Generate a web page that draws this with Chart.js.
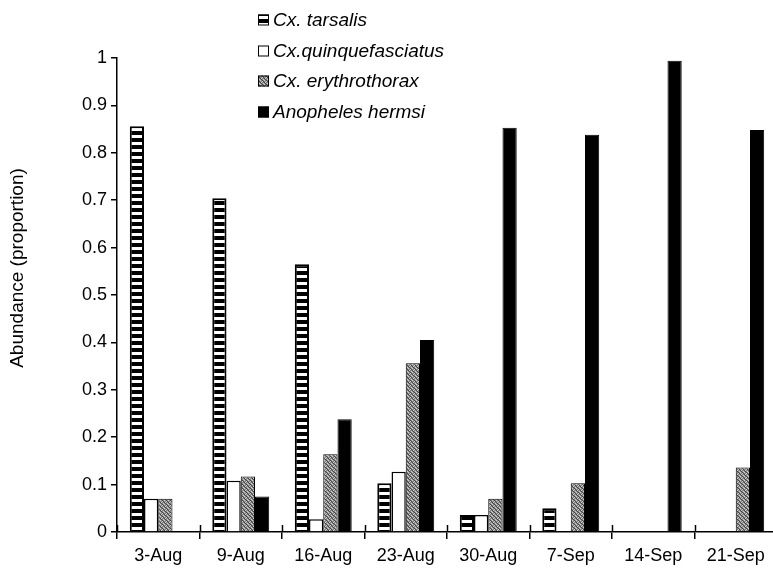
<!DOCTYPE html>
<html><head><meta charset="utf-8">
<script src="https://cdn.jsdelivr.net/npm/chart.js@4.4.0/dist/chart.umd.min.js"></script>
<style>
html,body{margin:0;padding:0;background:#fff;overflow:hidden;width:773px;height:582px;}
#wrap{position:relative;width:780px;height:582px;}
</style></head><body>
<div id="wrap"><canvas id="c"></canvas></div>
<script>
const categories = ['3-Aug','9-Aug','16-Aug','23-Aug','30-Aug','7-Sep','14-Sep','21-Sep'];
const seriesNames = ['Cx. tarsalis','Cx.quinquefasciatus','Cx. erythrothorax','Anopheles hermsi'];
const tarsalis = [0.856,0.704,0.565,0.103,0.036,0.050,0,0];
const quinquefasciatus = [0.070,0.108,0.027,0.127,0.036,0,0,0];
const erythrothorax = [0.070,0.117,0.164,0.356,0.070,0.103,0,0.136];
const hermsi = [0,0.075,0.238,0.405,0.853,0.838,0.994,0.848];
const yTickValues = [0,0.1,0.2,0.3,0.4,0.5,0.6,0.7,0.8,0.9,1];
const yTickLabels = ['0','0.1','0.2','0.3','0.4','0.5','0.6','0.7','0.8','0.9','1'];
const yTitle = 'Abundance (proportion)';

const FONT = "'Liberation Sans', Arial, sans-serif";
const ctx0 = document.getElementById('c').getContext('2d');

function stripePattern(){
  const c = document.createElement('canvas'); c.width = 4; c.height = 7;
  const g = c.getContext('2d');
  g.fillStyle = '#000'; g.fillRect(0,0,4,7);
  g.fillStyle = '#fff'; g.fillRect(0,2,4,3);
  return ctx0.createPattern(c,'repeat');
}
function stipplePattern(){
  const c = document.createElement('canvas'); c.width = 4; c.height = 4;
  const g = c.getContext('2d');
  g.fillStyle = '#868686'; g.fillRect(0,0,4,4);
  g.fillStyle = '#cfcfcf';
  [[0,0],[2,1],[1,2],[3,3]].forEach(p=>g.fillRect(p[0],p[1],1,1));
  g.fillStyle = '#444444';
  [[2,0],[0,2],[3,1],[1,3]].forEach(p=>g.fillRect(p[0],p[1],1,1));
  return ctx0.createPattern(c,'repeat');
}
const fills = [stripePattern(), '#ffffff', stipplePattern(), '#000000'];
const borders = [2, 1.5, 1, 1];
const seriesData = [tarsalis, quinquefasciatus, erythrothorax, hermsi];

const legendPlugin = {
  id: 'customLegend',
  afterDraw(chart){
    const ctx = chart.ctx;
    const x0 = 258, ys = [20, 51, 81, 112], box = 11;
    ctx.save();
    ctx.font = 'italic 19px ' + FONT;
    ctx.textBaseline = 'middle';
    chart.data.datasets.forEach((ds, i) => {
      const y = ys[i];
      ctx.fillStyle = ds.backgroundColor;
      ctx.fillRect(x0, y - box/2, box, box);
      ctx.strokeStyle = '#000'; ctx.lineWidth = 1;
      ctx.strokeRect(x0 + 0.5, y - box/2 + 0.5, box - 1, box - 1);
      ctx.fillStyle = '#000';
      ctx.fillText(ds.label, x0 + box + 4, y + 1);
    });
    ctx.restore();
  }
};
const titlePlugin = {
  id: 'yTitle',
  afterDraw(chart){
    const ctx = chart.ctx;
    ctx.save();
    ctx.translate(18, 268);
    ctx.rotate(-Math.PI/2);
    ctx.font = '19px ' + FONT;
    ctx.fillStyle = '#000';
    ctx.textAlign = 'center';
    ctx.textBaseline = 'middle';
    ctx.fillText(yTitle, 0, 0);
    ctx.restore();
  }
};
const xTickUp = {
  id: 'xTickUp',
  afterDatasetsDraw(chart){
    const s = chart.scales.x, ctx = chart.ctx;
    const n = categories.length, w = (s.right - s.left) / n;
    ctx.save(); ctx.strokeStyle = '#000'; ctx.lineWidth = 1.5;
    for (let i = 0; i <= n; i++){
      const x = Math.round(s.left + i*w) + 0.5;
      ctx.beginPath(); ctx.moveTo(x, s.top - 7); ctx.lineTo(x, s.top); ctx.stroke();
    }
    ctx.restore();
  }
};

new Chart(ctx0, {
  type: 'bar',
  data: {
    labels: categories,
    datasets: seriesNames.map((name, i) => ({
      label: name,
      data: seriesData[i],
      backgroundColor: fills[i],
      borderColor: '#000',
      borderWidth: seriesData[i].map(v => v > 0 ? borders[i] : 0),
      borderSkipped: 'bottom',
      barPercentage: 1.0,
      categoryPercentage: 0.69
    }))
  },
  options: {
    responsive: true,
    maintainAspectRatio: false,
    animation: false,
    layout: { padding: { top: 58, left: 0, right: 3, bottom: 0 } },
    plugins: { legend: { display: false }, tooltip: { enabled: false }, title: { display: false } },
    scales: {
      x: {
        offset: true,
        grid: { display: true, drawOnChartArea: false, offset: true, color: '#000', lineWidth: 1.5, tickLength: 7 },
        border: { display: true, color: '#000', width: 1.5 },
        ticks: { color: '#000', font: { family: FONT, size: 18 }, padding: 6, maxRotation: 0, autoSkip: false },
        afterFit(scale){ scale.height = 50; }
      },
      y: {
        min: 0, max: 1,
        afterBuildTicks(scale){ scale.ticks = yTickValues.map(v => ({ value: v })); },
        grid: { display: true, drawOnChartArea: false, color: '#000', lineWidth: 1.5, tickLength: 6 },
        border: { display: true, color: '#000', width: 1.5 },
        ticks: { color: '#000', font: { family: FONT, size: 18 }, padding: 4,
                 callback: (v, i) => yTickLabels[i] },
        afterFit(scale){ scale.width = 117; }
      }
    }
  },
  plugins: [legendPlugin, titlePlugin, xTickUp]
});
</script>
</body></html>
